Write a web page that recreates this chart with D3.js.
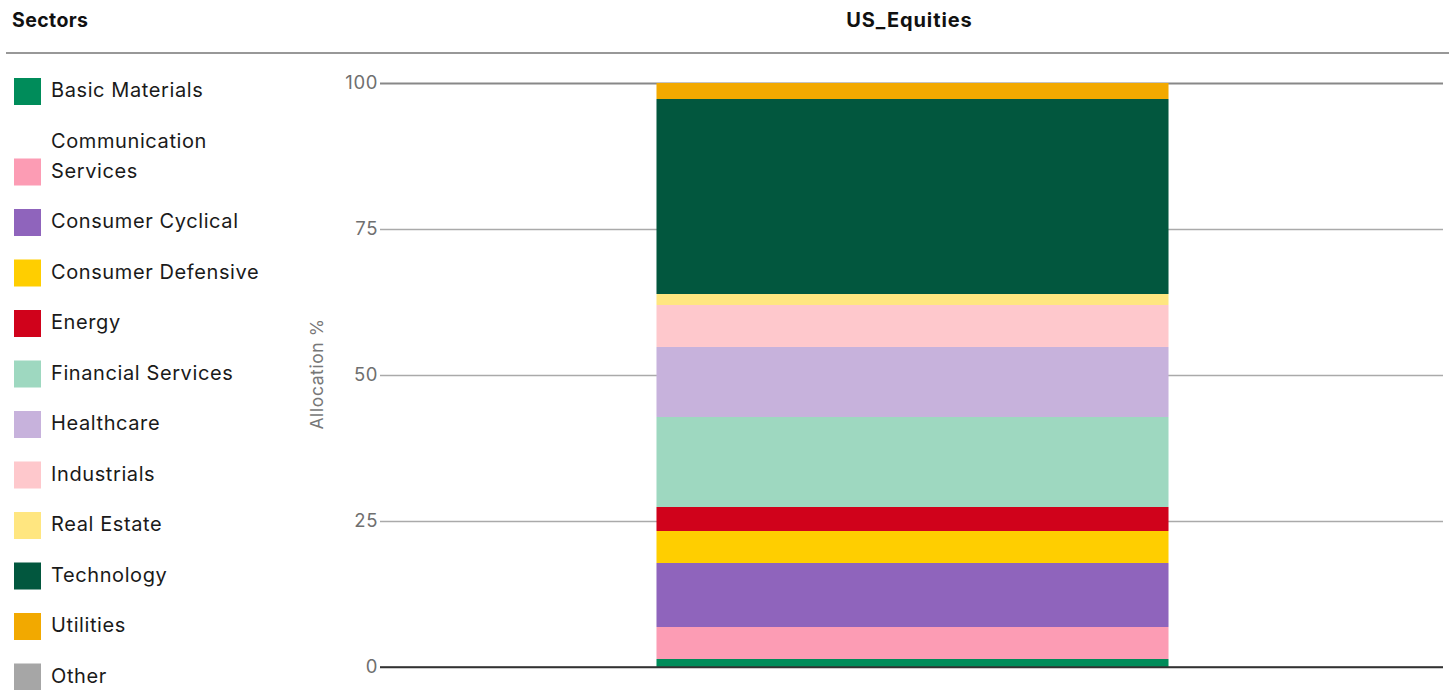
<!DOCTYPE html>
<html>
<head>
<meta charset="utf-8">
<script src="https://cdn.jsdelivr.net/npm/d3@7"></script>
<style>
  body { margin: 0; background: #fff; font-family: Inter, "Noto Sans", sans-serif; }
  svg { display: block; }
</style>
</head>
<body>
<svg id="chart"></svg>
<script>
// sectors, in stacking order (bottom to top)
var sectors = ["Basic Materials", "Communication Services", "Consumer Cyclical", "Consumer Defensive",
  "Energy", "Financial Services", "Healthcare", "Industrials", "Real Estate", "Technology", "Utilities", "Other"];
var sectorColors = ["#008c5a", "#fc9cb4", "#8f64bc", "#ffce00", "#d0021b", "#9ed8c0",
  "#c7b2dc", "#fec8cc", "#ffe680", "#02573e", "#f2a900", "#a6a6a6"];
var funds = ["US_Equities"];
var usEquities = [1.37, 5.48, 10.96, 5.48, 4.11, 15.41, 11.99, 7.19, 1.88, 33.39, 2.74, 0];
var yTicks = [0, 25, 50, 75, 100];

var width = 1449, height = 690;
var svg = d3.select("#chart").attr("width", width).attr("height", height);

var margin = { left: 380, right: 6, top: 83, bottom: 23 };

// header
svg.append("text").attr("x", 12).attr("y", 27)
  .style("font-size", "19.5px").style("font-weight", 700).style("letter-spacing", "0.4px").attr("fill", "#111")
  .text("Sectors");
svg.append("line").attr("x1", 6).attr("x2", width).attr("y1", 53).attr("y2", 53)
  .attr("stroke", "#333").attr("stroke-width", 1.2);

var x = d3.scaleBand().domain(funds).range([margin.left + 2, width - margin.right]).paddingInner(0.515).paddingOuter(0.26);
var y = d3.scaleLinear().domain([0, 100]).range([height - margin.bottom, margin.top]);

svg.selectAll(".fund-title").data(funds).enter().append("text")
  .attr("x", d => x(d) + x.bandwidth() / 2 - 3).attr("y", 27)
  .attr("text-anchor", "middle")
  .style("font-size", "20px").style("font-weight", 700).style("letter-spacing", "0.9px").attr("fill", "#111")
  .text(d => d);

// y axis with gridlines
var yAxis = d3.axisLeft(y).tickValues(yTicks).tickSize(-(width - margin.right - margin.left)).tickPadding(2);
var gy = svg.append("g").attr("transform", "translate(" + margin.left + ",0)").call(yAxis);
gy.select(".domain").remove();
gy.selectAll(".tick line").attr("stroke", d => d === 0 ? "#333" : (d === 100 ? "#888" : "#aaa"))
  .attr("stroke-width", d => d === 100 ? 2 : 1.5);
gy.selectAll(".tick text").attr("fill", "#6f6f6f").style("font-size", "18.5px").style("letter-spacing", "0.6px")
  .style("font-family", "Inter, 'Noto Sans', sans-serif");

svg.append("text")
  .attr("transform", "translate(323," + (y(50) - 1) + ") rotate(-90)")
  .attr("text-anchor", "middle")
  .attr("fill", "#777").style("font-size", "17.5px").style("letter-spacing", "0.6px")
  .text("Allocation %");

// stacked bar
var rows = funds.map(function (f) {
  var row = { fund: f };
  sectors.forEach(function (s, i) { row[s] = usEquities[i]; });
  return row;
});
var stack = d3.stack().keys(sectors)(rows);
var color = d3.scaleOrdinal().domain(sectors).range(sectorColors);

svg.append("g").selectAll("g").data(stack).enter().append("g")
  .attr("fill", d => color(d.key))
  .selectAll("rect").data(d => d).enter().append("rect")
  .attr("x", d => x(d.data.fund))
  .attr("width", x.bandwidth())
  .attr("y", d => y(d[1]))
  .attr("height", d => y(d[0]) - y(d[1]));

// baseline redrawn on top
svg.append("line").attr("x1", margin.left).attr("x2", width - margin.right)
  .attr("y1", y(0)).attr("y2", y(0)).attr("stroke", "#333").attr("stroke-width", 1.5);

// legend
var legend = svg.append("g");
var extra = 0, lineH = 30;
sectors.forEach(function (s, i) {
  var g = legend.append("g");
  var t = g.append("text").attr("x", 51)
    .style("font-size", "20px").style("letter-spacing", "0.6px").attr("fill", "#1a1a1a");
  // wrap long names
  var words = s.split(" "), lines = [], line = [];
  words.forEach(function (w) {
    line.push(w);
    t.text(line.join(" "));
    if (t.node().getComputedTextLength() > 225 && line.length > 1) {
      line.pop(); lines.push(line.join(" ")); line = [w];
    }
  });
  lines.push(line.join(" "));
  t.text(null);
  extra += (lines.length - 1) * lineH;
  var swY = 78 + 50.5 * i + extra;
  lines.forEach(function (l, k) {
    t.append("tspan").attr("x", 51).attr("y", swY + 19 - (lines.length - 1 - k) * lineH).text(l);
  });
  g.append("rect").attr("x", 14).attr("y", swY).attr("width", 27).attr("height", 27)
    .attr("fill", sectorColors[i]);
});
</script>
</body>
</html>
